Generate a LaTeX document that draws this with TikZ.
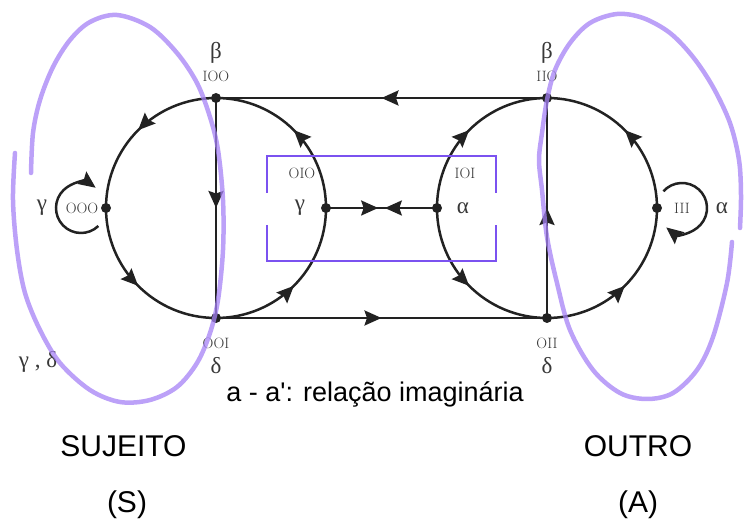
\documentclass[tikz,border=0pt]{standalone}
\usepackage{fontspec}
\setsansfont{Liberation Sans}
\newfontfamily\greekfont{Liberation Serif}
\usetikzlibrary{arrows.meta, decorations.markings, calc, positioning}

\definecolor{ink}{HTML}{222222}
\definecolor{labelgray}{HTML}{383838}
\definecolor{lilac}{HTML}{A582F5}
\definecolor{boxviolet}{HTML}{7B52F0}

\begin{document}
\begin{tikzpicture}[
		x=1pt, y=1pt,
		>={Stealth[length=17pt, width=15pt, inset=2.5pt]},
		% Points on the two circles
		dot/.style={circle, fill=ink, inner sep=0pt, minimum size=10pt},
		% Lines with one arrow half way
		flow/.style={draw=ink, line width=2.5pt, postaction={decorate},
			decoration={markings, mark=at position 0.5 with {\arrow{>}}}},
		loopline/.style={draw=ink, line width=2.5pt, ->},
		% Labels
		greek/.style={font=\greekfont\fontsize{23}{23}\selectfont, text=labelgray, inner sep=1pt},
		code/.style={font=\rmfamily\fontsize{15}{15}\selectfont, text=labelgray, inner sep=1pt},
		% Hand drawn zones and the frame
		zone/.style={draw=lilac, draw opacity=0.75, line width=4.5pt, line cap=round},
		frame/.style={draw=boxviolet, line width=1.3pt},
		caption/.style={font=\sffamily\fontsize{27}{27}\selectfont, anchor=base},
		side/.style={font=\sffamily\fontsize{30}{30}\selectfont, anchor=base}
		]
		\useasboundingbox (0,0) rectangle (745,521);
		
		% --- 1. Circle centres ---
		\coordinate (Lc) at (216,313);
		\coordinate (Rc) at (547,313);
		
		% --- 2. Points ---
		\node[dot] (IOO) at ($(Lc)+(90:110)$) {};
		\node[dot] (OOO) at ($(Lc)+(180:110)$) {};
		\node[dot] (OOI) at ($(Lc)+(270:110)$) {};
		\node[dot] (OIO) at ($(Lc)+(0:110)$) {};
		\node[dot] (IIO) at ($(Rc)+(90:110)$) {};
		\node[dot] (IOI) at ($(Rc)+(180:110)$) {};
		\node[dot] (OII) at ($(Rc)+(270:110)$) {};
		\node[dot] (III) at ($(Rc)+(0:110)$) {};
		
		% --- 3. Left circle ---
		\draw[flow] (IOO.center) to[out=180, in=90] (OOO.center);
		\draw[flow] (OOO.center) to[out=270, in=180] (OOI.center);
		\draw[flow] (OOI.center) to[out=0, in=270] (OIO.center);
		\draw[flow] (OIO.center) to[out=90, in=0] (IOO.center);
		
		% --- 4. Right circle ---
		\draw[flow] (IOI.center) to[out=90, in=180] (IIO.center);
		\draw[flow] (IOI.center) to[out=270, in=180] (OII.center);
		\draw[flow] (III.center) to[out=90, in=0] (IIO.center);
		\draw[flow] (OII.center) to[out=0, in=270] (III.center);
		
		% --- 5. Straight lines ---
		\draw[flow] (IIO.center) -- (IOO.center);
		\draw[flow] (IOO.center) -- (OOI.center);
		\draw[flow] (OOI.center) -- (OII.center);
		\draw[flow] (OII.center) -- (IIO.center);
		\draw[draw=ink, line width=2.5pt, postaction={decorate},
		decoration={markings, mark=at position 0.47 with {\arrow{>}},
			mark=at position 0.53 with {\arrowreversed{>}}}] (OIO.center) -- (IOI.center);
		
		% --- 6. Loops ---
		\coordinate (OOOloop) at ($(OOO)+(-25,0)$);
		\coordinate (IIIloop) at ($(III)+(25,0)$);
		\draw[loopline] ($(OOOloop)+(-46:25)$) arc[start angle=-46, end angle=-306, radius=25];
		\draw[loopline] ($(IIIloop)+(138:25)$) arc[start angle=138, end angle=-129, radius=25];
		
		% --- 7. Labels ---
		\node[greek] (beta1) at (216,468) {β};
		\node[code] (tIOO) at (216,445) {IOO};
		\node[greek] (beta2) at (547,468) {β};
		\node[code] (tIIO) at (547,445) {IIO};
		\node[code] (tOOI) at (216,178) {OOI};
		\node[greek] (delta1) at (216,155) {δ};
		\node[code] (tOII) at (547,178) {OII};
		\node[greek] (delta2) at (547,155) {δ};
		\node[code] (tOIO) at (302,348) {OIO};
		\node[greek] (gamma1) at (300,313) {γ};
		\node[code] (tIOI) at (465,348) {IOI};
		\node[greek] (alpha1) at (463,313) {α};
		\node[code] (tOOO) at (82,313) {OOO};
		\node[greek] (gamma2) at (42,313) {γ};
		\node[code] (tIII) at (682,313) {III};
		\node[greek] (alpha2) at (722,313) {α};
		\node[greek] (gd) at (38,159) {γ , δ};
		
		% --- 8. Frame round the middle ---
		\draw[frame] (267,328) |- (496,365) -- (496,328);
		\draw[frame] (267,296) |- (496,260) -- (496,296);
		
		% --- 9. Zones ---
		\draw[zone] plot[smooth, tension=0.55] coordinates {
			(15,368) (13,321) (17,271) (25,228) (40,191) (60,158) (90,131) (120,119)
			(150,121) (177,134) (197,158) (210,188) (218,221) (223,271) (223,321)
			(218,371) (210,404) (197,438) (177,468) (150,494) (117,506) (90,499)
			(70,481) (53,454) (40,421) (33,388) (31,348)};
		\draw[zone] plot[smooth, tension=0.55] coordinates {
			(732,279) (727,238) (713,184) (697,151) (673,128) (647,122) (620,128)
			(593,151) (570,191) (557,238) (547,284) (542,331) (539,361) (542,388)
			(547,421) (555,451) (570,478) (590,498) (617,507) (643,503) (670,488)
			(693,464) (713,434) (730,398) (739,361) (741,326) (740,293)};
		
		% --- 10. Texts ---
		\node[caption] (note) at (375,119) {a - a\textquotesingle: relação imaginária};
		\node[side] (sujeito) at (123.5,64) {SUJEITO};
		\node[side] (sujeitoS) at (127,8) {(S)};
		\node[side] (outro) at (638,64) {OUTRO};
		\node[side] (outroA) at (638,8) {(A)};
		
	\end{tikzpicture}
\end{document}
